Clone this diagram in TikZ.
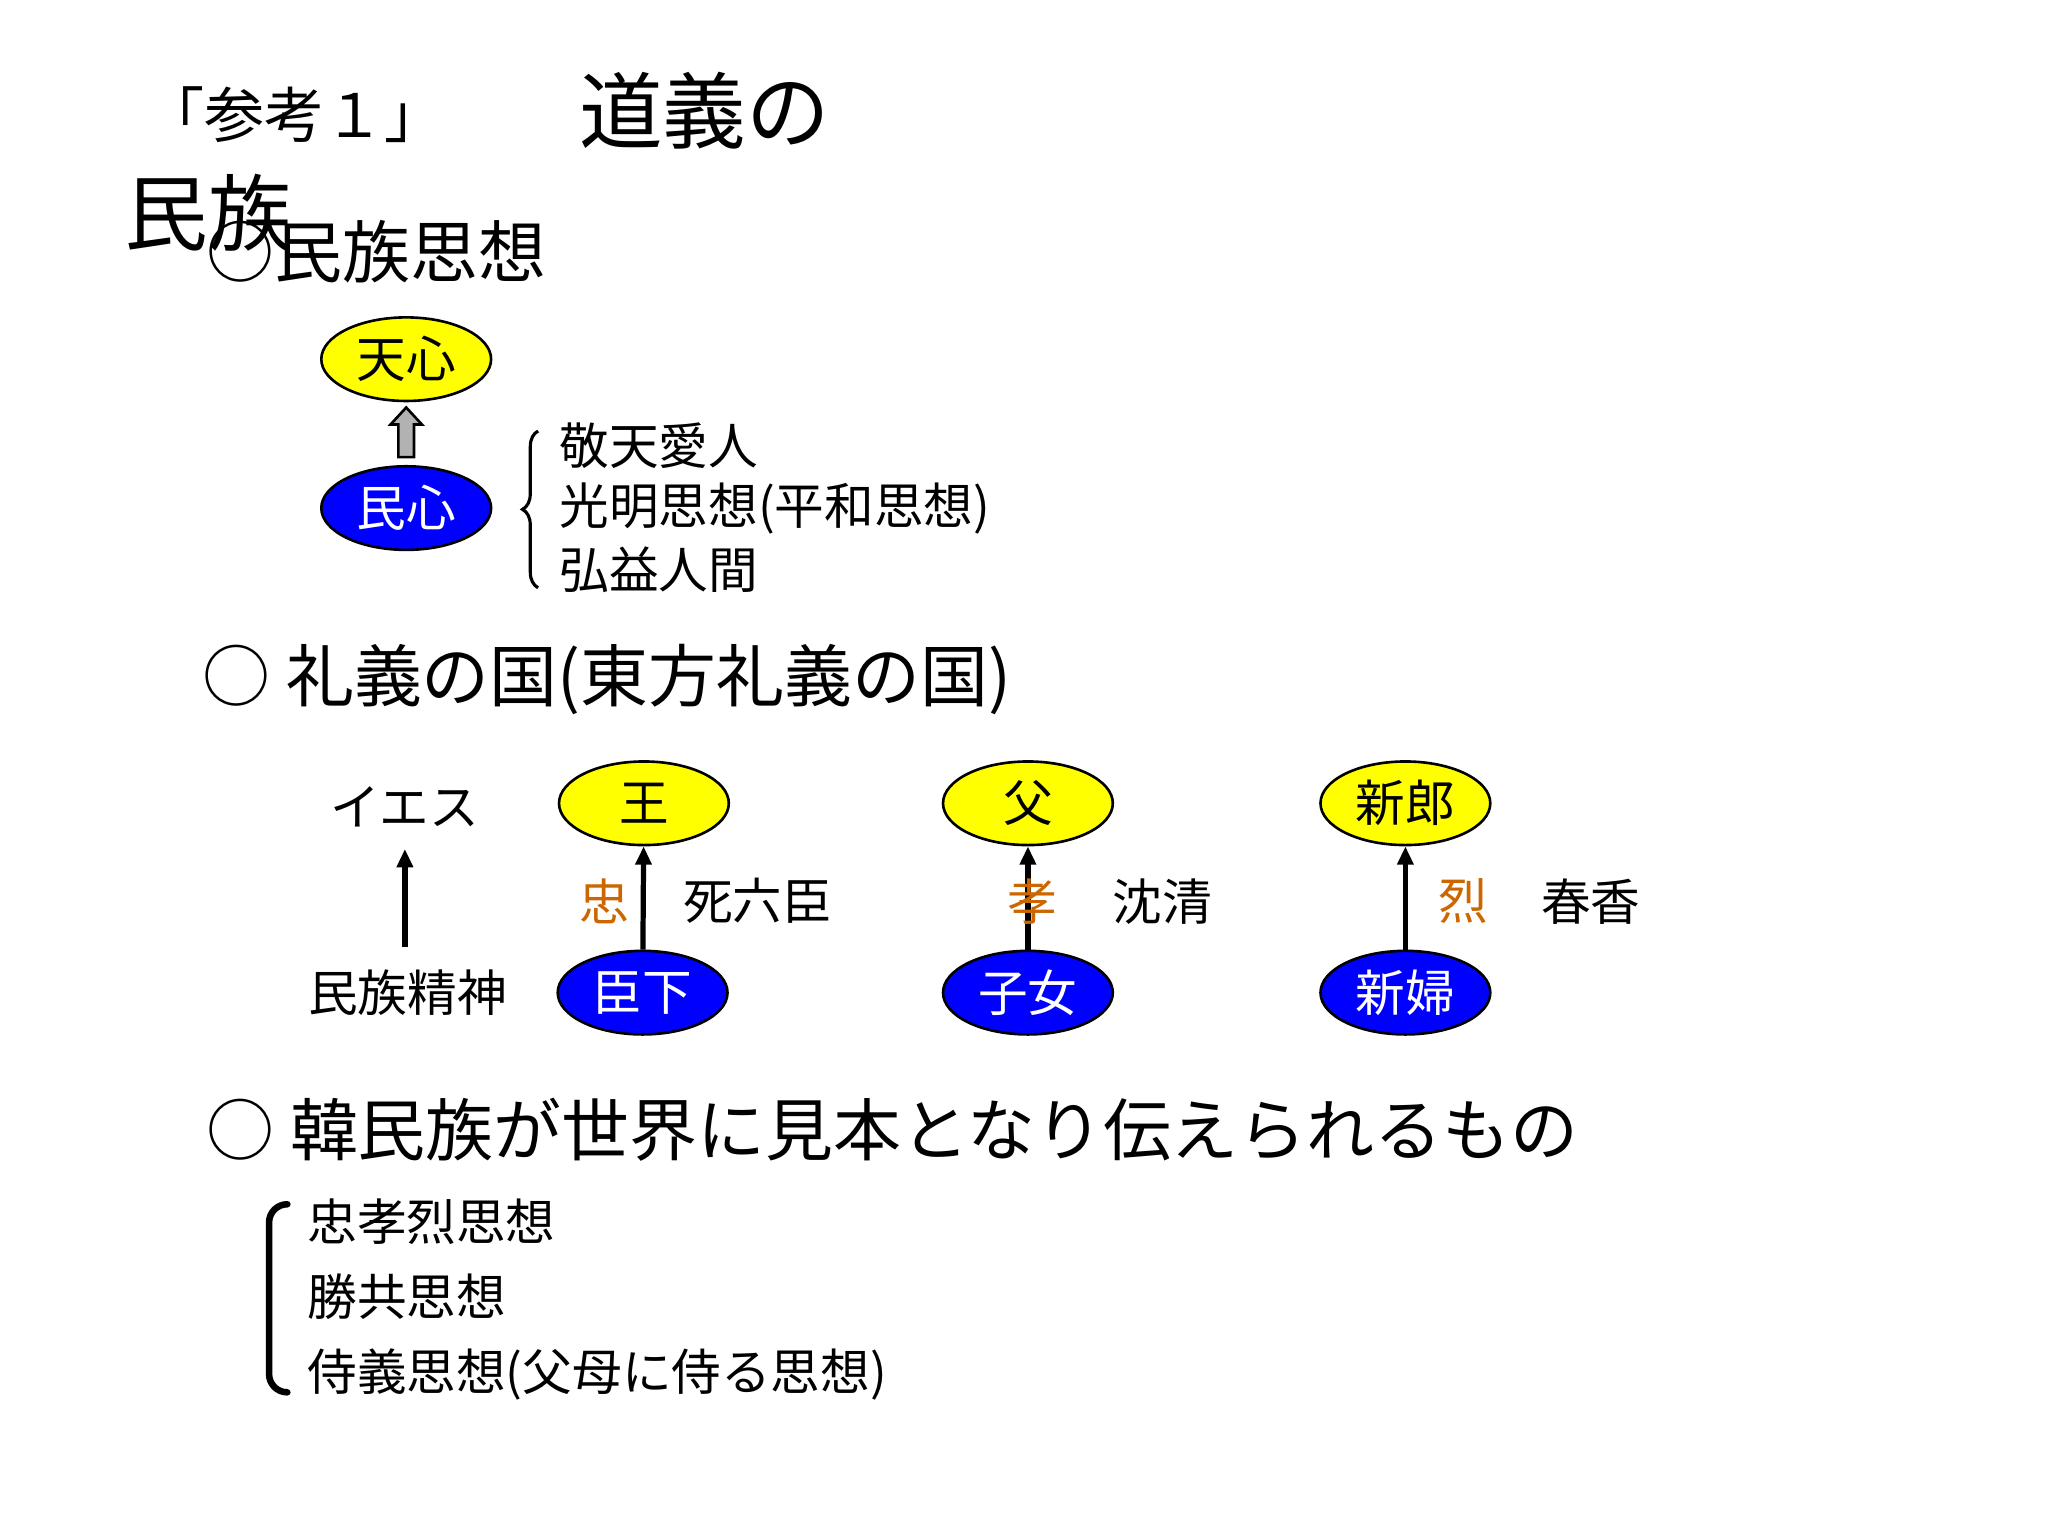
\documentclass[tikz,border=0pt]{standalone}
\usepackage{fontspec}
\setmainfont{Noto Sans CJK JP}
\usetikzlibrary{shapes.geometric,arrows.meta,decorations.pathreplacing}
\definecolor{lyel}{RGB}{255,255,0}
\definecolor{lblu}{RGB}{0,0,255}
\definecolor{lora}{RGB}{204,102,0}
\tikzset{
 ybox/.style={ellipse,draw=black,line width=1pt,fill=lyel,minimum width=65pt,minimum height=32pt,inner sep=0pt,font=\fontsize{19}{20}\selectfont},
 bbox/.style={ellipse,draw=black,line width=1pt,fill=lblu,text=white,minimum width=65pt,minimum height=32pt,inner sep=0pt,font=\fontsize{19}{20}\selectfont},
 small/.style={font=\fontsize{19}{22}\selectfont,inner sep=0pt},
 head/.style={font=\fontsize{26}{28}\selectfont,inner sep=0pt,anchor=west},
 arr/.style={-{Triangle[length=7pt,width=6pt]},line width=2pt},
 brc/.style={decorate,decoration={brace,amplitude=6pt},line width=1.2pt}
}
\begin{document}
\begin{tikzpicture}[x=0.5pt,y=-0.5pt]
\useasboundingbox (0,0) rectangle (1568,1176);
\node[font=\fontsize{23}{24}\selectfont,anchor=west,inner sep=0pt] (t1) at (110,88) {「参考１」};
\node[font=\fontsize{32}{34}\selectfont,anchor=west,inner sep=0pt] (t2) at (443,85) {道義の};
\node[font=\fontsize{32}{34}\selectfont,anchor=west,inner sep=0pt] (t3) at (95,163) {民族};
\node[head] (h1) at (158,193) {○民族思想};
\node[ybox] (ts) at (311,275) {天心};
\node[bbox] (ms) at (311,389) {民心};
\draw[fill=gray!60,line width=1pt] (305,350) -- (305,325) -- (299,325) -- (311,312) -- (323,325) -- (317,325) -- (317,350) -- cycle;
\coordinate (b1t) at (412,330); \coordinate (b1b) at (412,450);
\draw[brc] (b1b) -- (b1t);
\node[small,anchor=west] (l1) at (428,341) {敬天愛人};
\node[small,anchor=west] (l2) at (428,389) {光明思想(平和思想)};
\node[small,anchor=west] (l3) at (428,436) {弘益人間};
\node[head] (h2) at (155,520) {○ 礼義の国(東方礼義の国)};
\node[small] (ie) at (310,618) {イエス};
\node[small] (mz) at (312,760) {民族精神};
\coordinate (iea) at (310,725); \coordinate (ieb) at (310,650);
\draw[arr] (iea) -- (ieb);
\node[ybox] (k) at (493,615) {王};
\node[bbox] (s) at (492,760) {臣下};
\draw[arr] (s) -- (k);
\node[small,text=lora] (c1) at (463,690) {忠};
\node[small] (c2) at (580,690) {死六臣};
\node[ybox] (f) at (787,615) {父};
\node[bbox] (z) at (787,760) {子女};
\draw[arr] (z) -- (f);
\node[small,text=lora] (c3) at (790,690) {孝};
\node[small] (c4) at (890,690) {沈清};
\node[ybox] (sr) at (1076,615) {新郎};
\node[bbox] (sf) at (1076,760) {新婦};
\draw[arr] (sf) -- (sr);
\node[small,text=lora] (c5) at (1120,690) {烈};
\node[small] (c6) at (1218,690) {春香};
\node[head] (h3) at (158,865) {○ 韓民族が世界に見本となり伝えられるもの};
\coordinate (b2t) at (218,922); \coordinate (b2b) at (218,1066);
\draw[line width=2.5pt,line cap=round] ([shift={(2,0)}]b2t) to[out=180,in=90] ([shift={(-12,14)}]b2t) -- ([shift={(-12,-14)}]b2b) to[out=-90,in=180] ([shift={(2,0)}]b2b);
\node[small,anchor=west] (m1) at (235,935) {忠孝烈思想};
\node[small,anchor=west] (m2) at (235,993) {勝共思想};
\node[small,anchor=west] (m3) at (235,1052) {侍義思想(父母に侍る思想)};
\end{tikzpicture}
\end{document}
